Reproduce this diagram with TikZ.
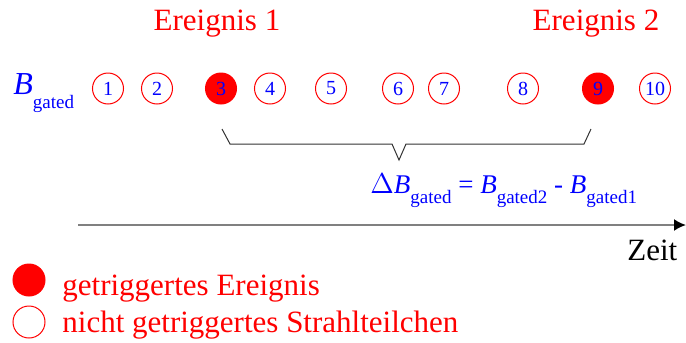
\documentclass[tikz,border=0pt]{standalone}
\usepackage{fontspec}
\setmainfont{Liberation Serif}
\newfontfamily\tms{Liberation Serif}
\usetikzlibrary{arrows.meta}
\newcommand\gsub[2]{\raisebox{-#1}{\fontsize{9.5}{9.5}\selectfont #2}}
\tikzset{
  ptl/.style={circle, draw=red, line width=0.5pt, minimum size=15.5pt, inner sep=0pt, text=blue, font=\tms\fontsize{10}{10}\selectfont},
  trig/.style={ptl, fill=red},
  lbl/.style={red, font=\tms\fontsize{15.5}{18}\selectfont, inner sep=0pt},
  frm/.style={blue, inner sep=0pt, anchor=base west, font=\tms},
  brc/.style={draw=black!80, line width=0.5pt},
  axis/.style={-{Latex[black, length=6pt, width=6pt]}, gray, line width=1pt},
}
\begin{document}
\begin{tikzpicture}[x=0.5pt, y=-0.5pt]
    \useasboundingbox (0,0) rectangle (686,343);
    \node[lbl, anchor=base] (ev1) at (217,30) {Ereignis 1};
    \node[lbl, anchor=base] (ev2) at (596,30) {Ereignis 2};
    \node[frm] (bg) at (13,94) {\fontsize{16}{16}\selectfont\textit{B}\gsub{7pt}{gated}};
    \foreach \n/\x in {1/108,2/157,4/270,5/331,6/398,7/444,8/523,10/655}
      \node[ptl] (c\n) at (\x,88.5) {\n};
    \node[trig] (c3) at (221,88.5) {3};
    \node[trig] (c9) at (598,88.5) {9};
    \draw[brc] (222,129) -- (230,144) -- (392,144) -- (399,160) -- (406,144) -- (584,144) -- (591,129);
    \node[frm] (dB) at (370,193) {\fontsize{13.5}{15}\selectfont
      $\Delta$\textit{B}\gsub{5pt}{gated} = \textit{B}\gsub{5pt}{gated2} - \textit{B}\gsub{5pt}{gated1}};
    \coordinate (t0) at (78,225);
    \coordinate (t1) at (686,225);
    \draw[axis] (t0) -- (t1);
    \node[lbl, black, anchor=base west] (zeit) at (627,260) {Zeit};
    \node[trig, minimum size=16pt] (lg1) at (29,280) {};
    \node[ptl, minimum size=16pt] (lg2) at (29,322) {};
    \node[lbl, anchor=base west] (lt1) at (62,295) {getriggertes Ereignis};
    \node[lbl, anchor=base west] (lt2) at (62,332) {nicht getriggertes Strahlteilchen};
\end{tikzpicture}
\end{document}
